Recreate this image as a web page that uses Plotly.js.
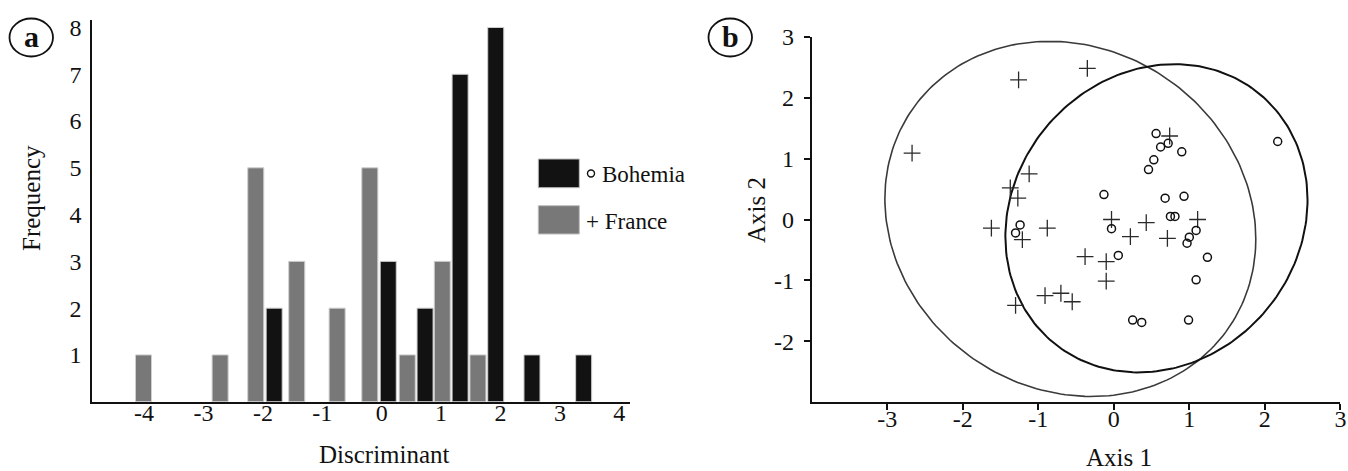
<!DOCTYPE html>
<html><head><meta charset="utf-8">
<script src="https://cdn.plot.ly/plotly-3.0.1.min.js"></script>
<style>html,body{margin:0;padding:0;background:#fff}#chart{width:1348px;height:471px}</style>
</head><body><div id="chart"></div><script>
// ---- Panel a: histogram of discriminant scores ----
const franceBinX  = [-4.01, -2.72, -2.12, -1.43, -0.75, -0.20, 0.43, 1.02, 1.62];
const franceFreq  = [1, 1, 5, 3, 2, 5, 1, 3, 1];
const bohemiaBinX = [-1.81, 0.11, 0.73, 1.32, 1.92, 2.53, 3.40];
const bohemiaFreq = [2, 3, 2, 7, 8, 1, 1];
const histXTicks  = [-4, -3, -2, -1, 0, 1, 2, 3, 4];
const freqTicks   = [1, 2, 3, 4, 5, 6, 7, 8];

// ---- Panel b: ordination scatter ----
const franceAxis1 = [-1.26, -0.35, -2.67, -1.12, -1.37, -1.27, -1.62, -0.88, -1.21, -0.03, 0.43, 0.22, 0.71, 1.11, 0.74, -0.38, -0.10, -0.10, -0.91, -0.70, -0.55, -1.30];
const franceAxis2 = [2.29, 2.48, 1.09, 0.75, 0.52, 0.35, -0.14, -0.14, -0.33, 0.00, -0.05, -0.28, -0.31, 0.00, 1.37, -0.61, -0.69, -1.01, -1.25, -1.21, -1.35, -1.41];
const bohemiaAxis1 = [0.56, 0.72, 0.62, 0.90, 0.53, 0.46, -0.13, 0.68, 0.93, 0.75, 0.81, -1.24, -1.30, -0.03, 0.06, 1.09, 1.00, 0.97, 1.24, 1.09, 0.25, 0.37, 0.99, 2.17];
const bohemiaAxis2 = [1.41, 1.25, 1.19, 1.11, 0.98, 0.82, 0.41, 0.35, 0.38, 0.05, 0.05, -0.09, -0.22, -0.15, -0.59, -0.18, -0.29, -0.39, -0.62, -0.99, -1.65, -1.69, -1.65, 1.28];
const scatterXTicks = [-3, -2, -1, 0, 1, 2, 3];
const scatterYTicks = [-2, -1, 0, 1, 2, 3];

// ellipse parameters: centre x, centre y, offset of rightmost point (dx, dy), half height
const franceEllipse  = [-0.575, 0.01, 2.455, -0.33, 2.915];
const bohemiaEllipse = [0.565, 0.02, 2.00, 0.30, 2.53];

function ellipsePath(p) {
  const [cx, cy, rx, ry, h] = p;
  const k = Math.sqrt(h * h - ry * ry);
  const xs = [], ys = [];
  for (let i = 0; i <= 240; i++) {
    const t = 2 * Math.PI * i / 240;
    xs.push(cx + rx * Math.cos(t));
    ys.push(cy + ry * Math.cos(t) + k * Math.sin(t));
  }
  return {xs, ys};
}

const FONT = 'Liberation Serif, Times New Roman, serif';
const W = 1348, H = 471;
const px = x => x / W;
const py = y => (H - y) / H;

const fe = ellipsePath(franceEllipse);
const be = ellipsePath(bohemiaEllipse);

const traces = [
  {type: 'bar', x: franceBinX, y: franceFreq, width: 0.27, xaxis: 'x', yaxis: 'y',
   marker: {color: '#787878', line: {color: '#cfcfcf', width: 1}}, hoverinfo: 'x+y', name: 'France'},
  {type: 'bar', x: bohemiaBinX, y: bohemiaFreq, width: 0.27, xaxis: 'x', yaxis: 'y',
   marker: {color: '#121212', line: {color: '#cfcfcf', width: 1}}, hoverinfo: 'x+y', name: 'Bohemia'},
  {type: 'scatter', mode: 'lines', x: fe.xs, y: fe.ys, xaxis: 'x2', yaxis: 'y2',
   line: {color: '#3a3a3a', width: 1.6}, hoverinfo: 'skip'},
  {type: 'scatter', mode: 'lines', x: be.xs, y: be.ys, xaxis: 'x2', yaxis: 'y2',
   line: {color: '#111111', width: 2}, hoverinfo: 'skip'},
  {type: 'scatter', mode: 'markers', x: franceAxis1, y: franceAxis2, xaxis: 'x2', yaxis: 'y2',
   marker: {symbol: 'cross-thin-open', size: 12, color: '#2a2a2a', line: {color: '#2a2a2a', width: 1.3}}, name: 'France'},
  {type: 'scatter', mode: 'markers', x: bohemiaAxis1, y: bohemiaAxis2, xaxis: 'x2', yaxis: 'y2',
   marker: {symbol: 'circle-open', size: 8, color: '#111', line: {color: '#111', width: 1.5}}, name: 'Bohemia'}
];

const tickFont = {family: FONT, size: 24, color: '#111'};
const titleFont = {family: FONT, size: 25, color: '#111'};

const layout = {
  width: W, height: H,
  margin: {l: 0, r: 0, t: 0, b: 0},
  paper_bgcolor: '#fff', plot_bgcolor: 'rgba(0,0,0,0)',
  showlegend: false, barmode: 'overlay',
  font: {family: FONT, color: '#111'},
  xaxis: {domain: [px(92.4), px(630)], range: [-4.87, 4.18], anchor: 'y',
    showgrid: false, zeroline: false, showline: true, linecolor: '#111', linewidth: 2,
    tickmode: 'array', tickvals: histXTicks, ticktext: histXTicks.map(String),
    ticks: '', ticklabelstandoff: -12, tickfont: tickFont, fixedrange: true},
  yaxis: {domain: [py(401.7), py(20)], range: [0, 8.16], anchor: 'x',
    showgrid: false, zeroline: false, showline: true, linecolor: '#111', linewidth: 2,
    tickmode: 'array', tickvals: freqTicks, ticktext: freqTicks.map(String),
    ticks: '', ticklabelstandoff: 4, tickfont: tickFont, fixedrange: true},
  xaxis2: {domain: [px(811.6), px(1340.4)], range: [-4, 3], anchor: 'y2',
    showgrid: false, zeroline: false, showline: true, linecolor: '#111', linewidth: 1.6,
    tickmode: 'array', tickvals: scatterXTicks, ticktext: scatterXTicks.map(String),
    ticks: 'outside', ticklen: 6, tickwidth: 1.6, tickcolor: '#111', ticklabelstandoff: -12,
    tickfont: tickFont, fixedrange: true},
  yaxis2: {domain: [py(402.3), py(36.7)], range: [-3, 3], anchor: 'x2',
    showgrid: false, zeroline: false, showline: true, linecolor: '#111', linewidth: 1.6,
    tickmode: 'array', tickvals: scatterYTicks, ticktext: scatterYTicks.map(String),
    ticks: 'outside', ticklen: 6, tickwidth: 1.6, tickcolor: '#111', ticklabelstandoff: 5,
    tickfont: tickFont, fixedrange: true},
  shapes: [
    {type: 'circle', xref: 'paper', yref: 'paper', x0: px(9.5), x1: px(53), y0: py(56.5), y1: py(18.5),
     line: {color: '#111', width: 1.8}},
    {type: 'circle', xref: 'paper', yref: 'paper', x0: px(708.5), x1: px(752), y0: py(56.5), y1: py(18.5),
     line: {color: '#111', width: 1.8}},
    {type: 'rect', xref: 'paper', yref: 'paper', x0: px(538.3), x1: px(579.3), y0: py(187.7), y1: py(159),
     fillcolor: '#121212', line: {color: '#bdbdbd', width: 1}},
    {type: 'rect', xref: 'paper', yref: 'paper', x0: px(538.3), x1: px(579.3), y0: py(234), y1: py(205.7),
     fillcolor: '#787878', line: {color: '#bdbdbd', width: 1}},
    // legend glyph for the Bohemia circle symbol
    {type: 'circle', xref: 'paper', yref: 'paper', x0: px(587.5), x1: px(594.5), y0: py(177), y1: py(170),
     line: {color: '#111', width: 1.4}}
  ],
  annotations: [
    {text: '<b>a</b>', xref: 'paper', yref: 'paper', x: px(31.3), y: py(37), showarrow: false,
     xanchor: 'center', yanchor: 'middle', font: {family: FONT, size: 30, color: '#111'}},
    {text: '<b>b</b>', xref: 'paper', yref: 'paper', x: px(730.3), y: py(37), showarrow: false,
     xanchor: 'center', yanchor: 'middle', font: {family: FONT, size: 30, color: '#111'}},
    {text: 'Bohemia', xref: 'paper', yref: 'paper', x: px(600), y: py(174), showarrow: false,
     xanchor: 'left', yanchor: 'middle', font: {family: FONT, size: 23, color: '#111'}},
    {text: '+ France', xref: 'paper', yref: 'paper', x: px(584), y: py(221), showarrow: false,
     xanchor: 'left', yanchor: 'middle', font: {family: FONT, size: 23, color: '#111'}},
    {text: 'Frequency', xref: 'paper', yref: 'paper', x: px(31), y: py(198), showarrow: false,
     textangle: -90, xanchor: 'center', yanchor: 'middle', font: titleFont},
    {text: 'Discriminant', xref: 'paper', yref: 'paper', x: px(384), y: py(454), showarrow: false,
     xanchor: 'center', yanchor: 'middle', font: titleFont},
    {text: 'Axis 1', xref: 'paper', yref: 'paper', x: px(1119), y: py(457), showarrow: false,
     xanchor: 'center', yanchor: 'middle', font: titleFont},
    {text: 'Axis 2', xref: 'paper', yref: 'paper', x: px(756), y: py(210), showarrow: false,
     textangle: -90, xanchor: 'center', yanchor: 'middle', font: titleFont}
  ]
};

Plotly.newPlot('chart', traces, layout, {displayModeBar: false});
</script></body></html>
